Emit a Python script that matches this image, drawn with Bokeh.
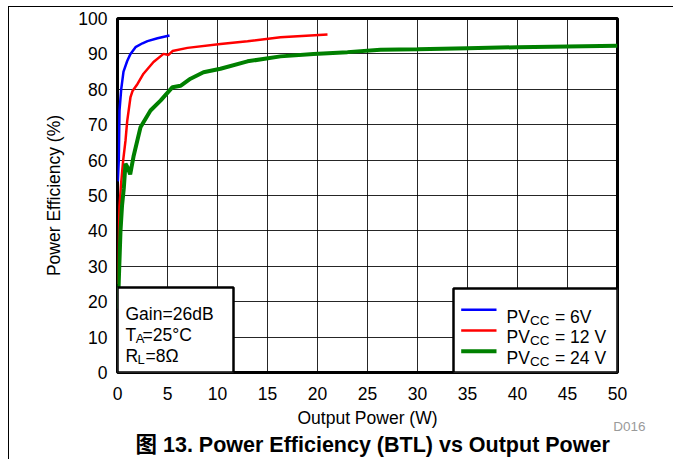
from bokeh.plotting import figure
from bokeh.models import Range1d, FixedTicker, Label, BoxAnnotation, Title
from bokeh.embed import file_html
from bokeh.resources import INLINE

# ---------------- data ----------------
x_ticks = [0, 5, 10, 15, 20, 25, 30, 35, 40, 45, 50]
y_ticks = [0, 10, 20, 30, 40, 50, 60, 70, 80, 90, 100]

blue_x = [0.03, 0.13, 0.2, 0.37, 0.6, 0.97, 1.3, 1.8, 2.5, 3.0, 4.0, 5.2]
blue_y = [54, 60, 74, 80, 85, 88, 90, 91.9, 93.0, 93.6, 94.4, 95.2]

red_x = [0.05, 0.1, 0.2, 0.35, 0.57, 0.8, 0.97, 1.3, 1.5, 2.0, 2.6, 3.6, 4.6, 5.1, 5.5, 7.0, 10.3, 13.0, 16.3, 21.0]
red_y = [25, 36, 47, 53, 60, 65.5, 71, 77.8, 79.5, 81.5, 84.4, 87.7, 90.0, 89.7, 90.8, 91.7, 92.8, 93.6, 94.7, 95.5]

green_x = [0.05, 0.13, 0.3, 0.45, 0.63, 0.8, 1.0, 1.27, 1.6, 2.3, 3.3, 4.3, 5.5, 6.3, 7.3, 8.6,
           10.3, 13.0, 16.3, 19.6, 23.0, 26.3, 30.0, 35.0, 40.0, 45.0, 50.0]
green_y = [18, 26, 40, 47, 52, 59, 58, 56, 61, 69.3, 74, 76.8, 80.6, 81.0, 83.0, 84.8,
           85.8, 87.9, 89.3, 90.0, 90.5, 91.2, 91.3, 91.6, 91.9, 92.1, 92.3]

series_labels = ["6V", "12 V", "24 V"]
series_colors = ["#0000FF", "#FF0000", "#008000"]
series_widths = [2.5, 2.5, 4]

FONT = "Liberation Sans, Noto Sans CJK SC"

# ---------------- layout ----------------
W, H = 673, 459
LEFT, RIGHT, TOP, BOTTOM = 117, 56, 18, 87
FW, FH = W - LEFT - RIGHT, H - TOP - BOTTOM

p = figure(width=W, height=H, x_range=Range1d(0, 50), y_range=Range1d(0, 100),
           output_backend="svg", toolbar_location=None,
           min_border_left=LEFT, min_border_right=RIGHT,
           min_border_top=TOP, min_border_bottom=BOTTOM)
p.background_fill_color = "white"
p.border_fill_color = "white"
p.border_fill_alpha = 0.0
p.styles = {
    "background": "linear-gradient(#000, #000) 8px 6px / 1px 100% no-repeat, "
                  "linear-gradient(#000, #000) 8px 6px / 100% 1px no-repeat, #fff"
}
p.outline_line_color = "black"
p.outline_line_width = 3

for ax, ticks in ((p.xaxis, x_ticks), (p.yaxis, y_ticks)):
    ax.ticker = FixedTicker(ticks=ticks)
    ax.major_tick_line_color = None
    ax.minor_tick_line_color = None
    ax.axis_line_color = None
    ax.major_label_text_font = "Liberation Sans"
    ax.major_label_text_font_size = "17.5px"
    ax.major_label_text_color = "black"
    ax.axis_label_text_font = "Liberation Sans"
    ax.axis_label_text_font_size = "17.5px"
    ax.axis_label_text_font_style = "normal"
    ax.axis_label_text_color = "black"

p.xaxis.axis_label = "Output Power (W)"
p.yaxis.axis_label = "Power Efficiency (%)"
p.xaxis.major_label_standoff = 8
p.xaxis.axis_label_standoff = 5
p.yaxis.major_label_standoff = 4
p.yaxis.axis_label_standoff = 11

p.xgrid.ticker = FixedTicker(ticks=x_ticks)
p.ygrid.ticker = FixedTicker(ticks=y_ticks)
for g in (p.xgrid, p.ygrid):
    g.grid_line_color = "black"
    g.grid_line_width = 1
    g.grid_line_alpha = 0.85

# curves
for xs, ys, c, w in ((blue_x, blue_y, series_colors[0], series_widths[0]),
                     (red_x, red_y, series_colors[1], series_widths[1]),
                     (green_x, green_y, series_colors[2], series_widths[2])):
    p.line(xs, ys, line_color=c, line_width=w)


def px2x(px):
    return px / FW * 50.0


def px2y(py):
    return py / FH * 100.0


# annotation box (bottom-left)
p.add_layout(BoxAnnotation(left=0, right=px2x(116), bottom=0, top=px2y(85),
                           fill_color="white", fill_alpha=1.0,
                           line_color="black", line_width=2.5, line_alpha=1.0))
# legend box (bottom-right)
p.add_layout(BoxAnnotation(left=px2x(336), right=50, bottom=0, top=px2y(84),
                           fill_color="white", fill_alpha=1.0,
                           line_color="black", line_width=2.5, line_alpha=1.0))


def lab(txt, x, y, size="17.5px", align="left", baseline="alphabetic",
        color="black", style="normal"):
    p.add_layout(Label(x=x, y=y, x_units="screen", y_units="screen", text=txt,
                       text_font=FONT, text_font_size=size, text_align=align,
                       text_baseline=baseline, text_color=color,
                       text_font_style=style))


# annotation box text
lab("Gain=26dB", 8, 58.7)
lab("T", 8, 38)
lab("A", 18.3, 34.5, size="13px")
lab("=25\u00b0C", 25, 38)
lab("R", 8, 17)
lab("L", 20, 13.5, size="13px")
lab("=8\u03a9", 28, 17)

# legend
row_base = [56, 35.3, 14.7]
row_mid = [62.7, 42, 21.3]
for lbl, c, w, yb, ym in zip(series_labels, series_colors, series_widths, row_base, row_mid):
    p.line([px2x(343.7), px2x(379)], [px2y(ym), px2y(ym)], line_color=c, line_width=w,
           level="overlay")
    lab("PV", 389, yb)
    lab("CC", 412.5, yb - 3.5, size="13.5px")
    lab("= " + lbl, 437.5, yb)

# figure id and caption under the plot
p.add_layout(Title(text="D016", align="right", offset=-28, standoff=-24,
                   vertical_align="top", text_font=FONT, text_font_size="13.5px",
                   text_font_style="normal", text_color="#9a9a9a"), "below")
p.add_layout(Title(text="\u56fe 13. Power Efficiency (BTL) vs Output Power",
                   align="left", offset=18, standoff=0, vertical_align="bottom",
                   text_font=FONT, text_font_size="21.5px", text_font_style="bold",
                   text_color="black"), "below")

open("out.html", "w").write(file_html(p, INLINE))
